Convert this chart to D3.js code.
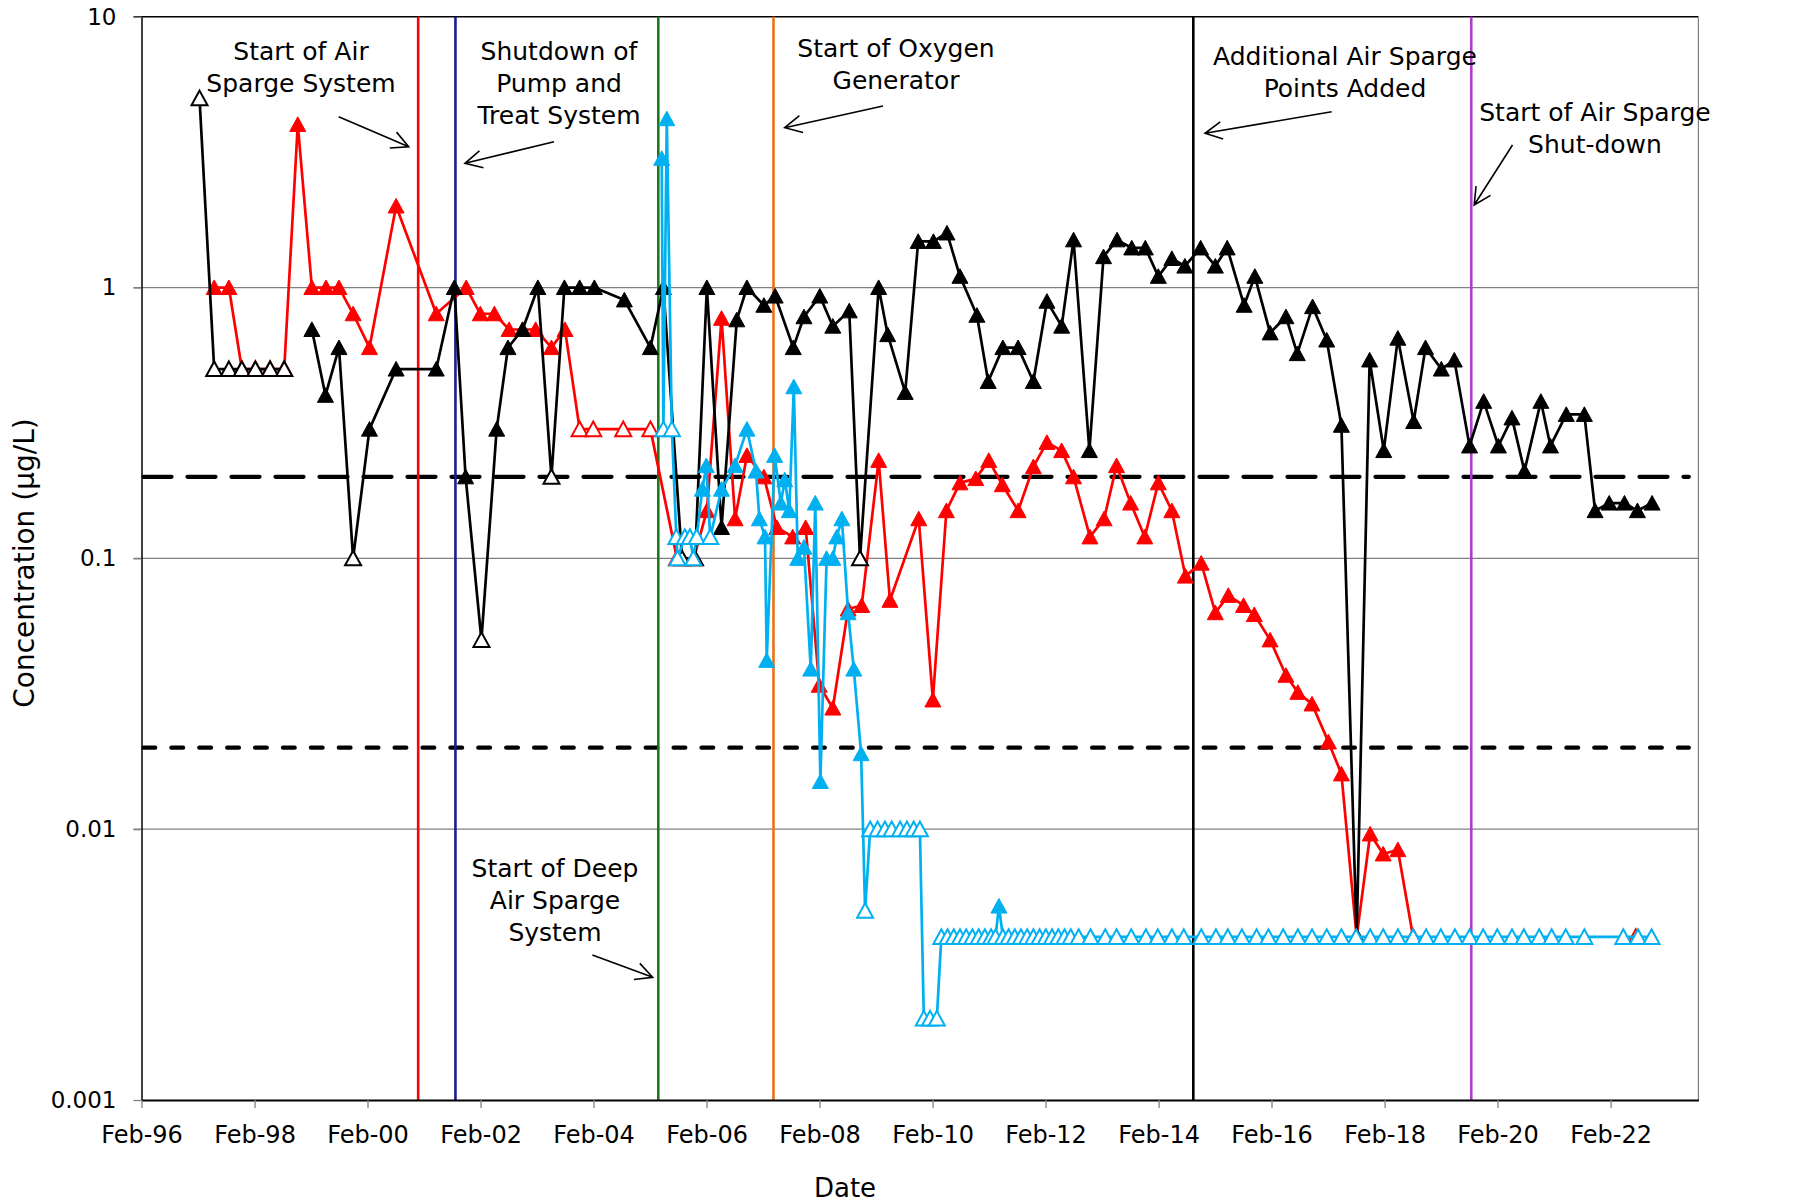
<!DOCTYPE html>
<html>
<head>
<meta charset="utf-8">
<script src="https://cdn.jsdelivr.net/npm/d3@7"></script>
<style>
  body { margin: 0; background: #fff; }
  svg { display: block; font-family: "DejaVu Sans", sans-serif; }
</style>
</head>
<body>
<svg id="chart" width="1796" height="1202"></svg>
<script>
// dates are decimal years, values in µg/L, third field = 1 for non-detect (open marker)
const xTickYears = [1996, 1998, 2000, 2002, 2004, 2006, 2008, 2010, 2012, 2014, 2016, 2018, 2020, 2022];
const yTickValues = [0.001, 0.01, 0.1, 1, 10];
const gridValues = [0.01, 0.1, 1];
const thresholdValues = [0.2, 0.02];
const thresholdEnd = 2023.47;

const eventDates = [2000.98, 2001.64, 2005.23, 2007.27, 2014.70, 2019.62];
const eventColors = ["#ff0000", "#1c1c8c", "#1a7a1a", "#e8731a", "#000000", "#ac3ec8"];

const eventLabels = [
  ["Start of Air", "Sparge System"],
  ["Shutdown of", "Pump and", "Treat System"],
  ["Start of Oxygen", "Generator"],
  ["Additional Air Sparge", "Points Added"],
  ["Start of Air Sparge", "Shut-down"],
  ["Start of Deep", "Air Sparge", "System"]
];

const blackWell = [
  [1997.11, 5, 1], [1997.37, 0.5, 1], [1997.63, 0.5, 1], [1997.86, 0.5, 1],
  [1998.10, 0.5, 1], [1998.36, 0.5, 1], [1998.61, 0.5, 1],
  null,
  [1999.10, 0.70, 0], [1999.34, 0.40, 0], [1999.58, 0.60, 0], [1999.83, 0.10, 1],
  [2000.12, 0.30, 0], [2000.59, 0.50, 0], [2001.30, 0.50, 0], [2001.62, 1.0, 0],
  [2001.82, 0.20, 0], [2002.10, 0.05, 1], [2002.37, 0.30, 0], [2002.57, 0.60, 0],
  [2002.83, 0.70, 0], [2003.10, 1.0, 0], [2003.34, 0.20, 1], [2003.57, 1.0, 0],
  [2003.84, 1.0, 0], [2004.10, 1.0, 0], [2004.63, 0.90, 0], [2005.09, 0.60, 0],
  [2005.32, 1.0, 0], [2005.65, 0.10, 1], [2005.88, 0.10, 1], [2006.09, 1.0, 0],
  [2006.35, 0.13, 0], [2006.62, 0.76, 0], [2006.80, 1.0, 0], [2007.10, 0.86, 0],
  [2007.30, 0.93, 0], [2007.62, 0.60, 0], [2007.81, 0.78, 0], [2008.09, 0.93, 0],
  [2008.32, 0.72, 0], [2008.61, 0.82, 0], [2008.80, 0.10, 1], [2009.13, 1.0, 0],
  [2009.29, 0.67, 0], [2009.60, 0.41, 0], [2009.83, 1.48, 0], [2010.10, 1.48, 0],
  [2010.34, 1.59, 0], [2010.57, 1.1, 0], [2010.87, 0.79, 0], [2011.07, 0.45, 0],
  [2011.33, 0.60, 0], [2011.60, 0.60, 0], [2011.87, 0.45, 0], [2012.11, 0.89, 0],
  [2012.37, 0.72, 0], [2012.58, 1.5, 0], [2012.86, 0.25, 0], [2013.11, 1.3, 0],
  [2013.35, 1.5, 0], [2013.61, 1.4, 0], [2013.85, 1.4, 0], [2014.08, 1.1, 0],
  [2014.32, 1.28, 0], [2014.55, 1.2, 0], [2014.83, 1.4, 0], [2015.09, 1.2, 0],
  [2015.30, 1.4, 0], [2015.60, 0.86, 0], [2015.79, 1.1, 0], [2016.06, 0.68, 0],
  [2016.34, 0.78, 0], [2016.54, 0.57, 0], [2016.81, 0.85, 0], [2017.06, 0.64, 0],
  [2017.32, 0.31, 0], [2017.59, 0.004, 1], [2017.82, 0.54, 0], [2018.07, 0.25, 0],
  [2018.32, 0.65, 0], [2018.60, 0.32, 0], [2018.81, 0.60, 0], [2019.09, 0.50, 0],
  [2019.32, 0.54, 0], [2019.59, 0.26, 0], [2019.84, 0.38, 0], [2020.10, 0.26, 0],
  [2020.34, 0.33, 0], [2020.56, 0.21, 0], [2020.85, 0.38, 0], [2021.02, 0.26, 0],
  [2021.30, 0.34, 0], [2021.62, 0.34, 0], [2021.81, 0.15, 0], [2022.06, 0.16, 0],
  [2022.33, 0.16, 0], [2022.56, 0.15, 0], [2022.82, 0.16, 0]
];

const redWell = [
  [1997.37, 1.0, 0], [1997.63, 1.0, 0], [1997.86, 0.5, 1], [1998.10, 0.5, 1],
  [1998.36, 0.5, 1], [1998.61, 0.5, 1], [1998.85, 4.0, 0], [1999.10, 1.0, 0],
  [1999.35, 1.0, 0], [1999.58, 1.0, 0], [1999.83, 0.80, 0], [2000.12, 0.60, 0],
  [2000.59, 2.0, 0], [2001.30, 0.80, 0], [2001.83, 1.0, 0], [2002.08, 0.80, 0],
  [2002.33, 0.80, 0], [2002.59, 0.70, 0], [2002.83, 0.70, 0], [2003.06, 0.70, 0],
  [2003.34, 0.60, 0], [2003.58, 0.70, 0], [2003.84, 0.30, 1], [2004.08, 0.30, 1],
  [2004.61, 0.30, 1], [2005.09, 0.30, 1], [2005.56, 0.10, 1], [2005.86, 0.10, 1],
  [2006.09, 0.15, 0], [2006.35, 0.77, 0], [2006.59, 0.14, 0], [2006.80, 0.24, 0],
  [2007.10, 0.20, 0], [2007.33, 0.13, 0], [2007.61, 0.12, 0], [2007.84, 0.13, 0],
  [2008.08, 0.034, 0], [2008.32, 0.028, 0], [2008.59, 0.065, 0], [2008.83, 0.067, 0],
  [2009.13, 0.23, 0], [2009.33, 0.07, 0], [2009.84, 0.14, 0], [2010.09, 0.030, 0],
  [2010.33, 0.15, 0], [2010.57, 0.19, 0], [2010.85, 0.197, 0], [2011.08, 0.23, 0],
  [2011.32, 0.187, 0], [2011.60, 0.15, 0], [2011.87, 0.218, 0], [2012.11, 0.268, 0],
  [2012.37, 0.25, 0], [2012.58, 0.20, 0], [2012.87, 0.12, 0], [2013.12, 0.14, 0],
  [2013.34, 0.22, 0], [2013.59, 0.16, 0], [2013.84, 0.12, 0], [2014.08, 0.19, 0],
  [2014.32, 0.15, 0], [2014.56, 0.086, 0], [2014.84, 0.096, 0], [2015.09, 0.063, 0],
  [2015.32, 0.073, 0], [2015.59, 0.067, 0], [2015.78, 0.062, 0], [2016.06, 0.050, 0],
  [2016.34, 0.037, 0], [2016.55, 0.032, 0], [2016.80, 0.029, 0], [2017.09, 0.021, 0],
  [2017.32, 0.016, 0], [2017.59, 0.004, 1], [2017.83, 0.0096, 0], [2018.06, 0.0081, 0],
  [2018.32, 0.0084, 0], [2018.59, 0.004, 1],
  null,
  [2022.53, 0.004, 1]
];

const cyanWell = [
  [2005.29, 3.0, 0], [2005.32, 0.3, 1], [2005.38, 4.2, 0], [2005.47, 0.3, 1],
  [2005.55, 0.12, 1], [2005.57, 0.1, 1], [2005.70, 0.12, 1], [2005.79, 0.12, 1],
  [2005.85, 0.1, 1], [2005.91, 0.12, 1], [2006.01, 0.18, 0], [2006.08, 0.22, 0],
  [2006.15, 0.12, 1], [2006.35, 0.18, 0], [2006.59, 0.22, 0], [2006.80, 0.30, 0],
  [2006.96, 0.21, 0], [2007.02, 0.14, 0], [2007.12, 0.12, 0], [2007.15, 0.042, 0],
  [2007.29, 0.24, 0], [2007.40, 0.16, 0], [2007.47, 0.195, 0], [2007.55, 0.15, 0],
  [2007.63, 0.43, 0], [2007.70, 0.10, 0], [2007.81, 0.11, 0], [2007.93, 0.039, 0],
  [2008.01, 0.16, 0], [2008.10, 0.015, 0], [2008.21, 0.10, 0], [2008.32, 0.10, 0],
  [2008.39, 0.12, 0], [2008.48, 0.14, 0], [2008.59, 0.063, 0], [2008.69, 0.039, 0],
  [2008.82, 0.019, 0], [2008.89, 0.005, 1],
  [2008.98, 0.01, 1], [2009.11, 0.01, 1], [2009.24, 0.01, 1], [2009.36, 0.01, 1],
  [2009.51, 0.01, 1], [2009.63, 0.01, 1], [2009.75, 0.01, 1], [2009.86, 0.01, 1],
  [2009.93, 0.002, 1], [2010.04, 0.002, 1], [2010.16, 0.002, 1],
  [2010.24, 0.004, 1], [2010.35, 0.004, 1], [2010.46, 0.004, 1], [2010.57, 0.004, 1],
  [2010.68, 0.004, 1], [2010.79, 0.004, 1], [2010.90, 0.004, 1], [2011.01, 0.004, 1],
  [2011.12, 0.004, 1], [2011.20, 0.004, 1], [2011.26, 0.0052, 0], [2011.33, 0.004, 1],
  [2011.43, 0.004, 1], [2011.54, 0.004, 1], [2011.65, 0.004, 1], [2011.76, 0.004, 1],
  [2011.87, 0.004, 1], [2011.98, 0.004, 1], [2012.09, 0.004, 1], [2012.20, 0.004, 1],
  [2012.31, 0.004, 1], [2012.42, 0.004, 1], [2012.53, 0.004, 1],
  [2012.67, 0.004, 1], [2012.88, 0.004, 1], [2013.14, 0.004, 1], [2013.34, 0.004, 1],
  [2013.60, 0.004, 1], [2013.86, 0.004, 1], [2014.07, 0.004, 1], [2014.32, 0.004, 1],
  [2014.53, 0.004, 1], [2014.84, 0.004, 1], [2015.10, 0.004, 1], [2015.31, 0.004, 1],
  [2015.56, 0.004, 1], [2015.82, 0.004, 1], [2016.03, 0.004, 1], [2016.29, 0.004, 1],
  [2016.55, 0.004, 1], [2016.80, 0.004, 1], [2017.06, 0.004, 1], [2017.32, 0.004, 1],
  [2017.58, 0.004, 1], [2017.83, 0.004, 1], [2018.06, 0.004, 1], [2018.32, 0.004, 1],
  [2018.59, 0.004, 1], [2018.82, 0.004, 1], [2019.08, 0.004, 1], [2019.33, 0.004, 1],
  [2019.59, 0.004, 1], [2019.83, 0.004, 1], [2020.08, 0.004, 1], [2020.34, 0.004, 1],
  [2020.55, 0.004, 1], [2020.82, 0.004, 1], [2021.04, 0.004, 1], [2021.29, 0.004, 1],
  [2021.62, 0.004, 1], [2022.31, 0.004, 1], [2022.57, 0.004, 1], [2022.81, 0.004, 1]
];

const svg = d3.select("#chart");
const plot = { left: 141.5, right: 1698.4, top: 16.7, bottom: 1100 };

function toDate(dy) {
  const yr = Math.floor(dy);
  const a = Date.UTC(yr, 0, 1), b = Date.UTC(yr + 1, 0, 1);
  return new Date(a + (dy - yr) * (b - a));
}

const x = d3.scaleUtc()
  .domain([toDate(1996.085), toDate(2023.64)])
  .range([plot.left, plot.right]);
const y = d3.scaleLog()
  .domain([0.001, 10])
  .range([plot.bottom, plot.top]);

// gridlines
svg.append("g").selectAll("line")
  .data(gridValues)
  .enter().append("line")
  .attr("x1", plot.left - 8).attr("x2", plot.right)
  .attr("y1", d => y(d)).attr("y2", d => y(d))
  .attr("stroke", "#808080").attr("stroke-width", 1.3);

// frame
svg.append("line")
  .attr("x1", plot.left - 8).attr("x2", plot.right)
  .attr("y1", y(10)).attr("y2", y(10))
  .attr("stroke", "#000").attr("stroke-width", 1.5);
svg.append("line")
  .attr("x1", plot.right).attr("x2", plot.right)
  .attr("y1", plot.top).attr("y2", plot.bottom)
  .attr("stroke", "#808080").attr("stroke-width", 1.2);

// regulatory levels
svg.append("g").selectAll("line")
  .data(thresholdValues)
  .enter().append("line")
  .attr("x1", x(toDate(1996.085)) + 2).attr("x2", x(toDate(thresholdEnd)))
  .attr("y1", d => y(d)).attr("y2", d => y(d))
  .attr("stroke", "#000").attr("stroke-width", 4.3)
  .attr("stroke-linecap", "round")
  .attr("stroke-dasharray", (d, i) => i === 0 ? "28 16" : "11.7 16.2");

// event lines
svg.append("g").selectAll("line")
  .data(eventDates)
  .enter().append("line")
  .attr("x1", d => x(toDate(d))).attr("x2", d => x(toDate(d)))
  .attr("y1", plot.top).attr("y2", plot.bottom)
  .attr("stroke", (d, i) => eventColors[i]).attr("stroke-width", 2.6);

// series
const seriesList = [
  { data: redWell, color: "#ff0000" },
  { data: blackWell, color: "#000000" },
  { data: cyanWell, color: "#00b0f0" }
];
const line = d3.line()
  .defined(d => d !== null)
  .x(d => x(toDate(d[0])))
  .y(d => y(d[1]));
const tri = "M0,-7.6L8,7L-8,7Z";

seriesList.forEach(s => {
  const g = svg.append("g");
  g.append("path")
    .attr("d", line(s.data))
    .attr("fill", "none")
    .attr("stroke", s.color)
    .attr("stroke-width", 2.7)
    .attr("stroke-linejoin", "round");
  g.selectAll("path.mk")
    .data(s.data.filter(d => d !== null))
    .enter().append("path")
    .attr("class", "mk")
    .attr("d", tri)
    .attr("transform", d => `translate(${x(toDate(d[0]))},${y(d[1])})`)
    .attr("fill", d => d[2] ? "#fff" : s.color)
    .attr("stroke", s.color)
    .attr("stroke-width", d => d[2] ? 2 : 1);
});

// axes
const xAxis = d3.axisBottom(x)
  .tickValues(xTickYears.map(yr => new Date(Date.UTC(yr, 1, 1))))
  .tickFormat(d3.utcFormat("%b-%y"))
  .tickSize(8).tickSizeOuter(0).tickPadding(18);
const gx = svg.append("g")
  .attr("transform", `translate(0,${plot.bottom})`)
  .call(xAxis);
gx.select(".domain").attr("stroke", "#000").attr("stroke-width", 2);
gx.selectAll(".tick line").attr("stroke", "#808080").attr("stroke-width", 1.3);
gx.selectAll(".tick text").attr("font-size", 24).attr("fill", "#000")
  .attr("font-family", "DejaVu Sans, sans-serif");

const yAxis = d3.axisLeft(y)
  .tickValues(yTickValues)
  .tickFormat(d => String(d))
  .tickSize(8).tickSizeOuter(0).tickPadding(17);
const gy = svg.append("g")
  .attr("transform", `translate(${plot.left},0)`)
  .call(yAxis);
gy.select(".domain").attr("stroke", "#000").attr("stroke-width", 1.5);
gy.selectAll(".tick line").attr("stroke", "#808080").attr("stroke-width", 1.3);
gy.selectAll(".tick text").attr("font-size", 23).attr("fill", "#000")
  .attr("font-family", "DejaVu Sans, sans-serif");

// axis titles
svg.append("text")
  .attr("transform", "translate(34,563) rotate(-90)")
  .attr("text-anchor", "middle")
  .attr("font-size", 28)
  .text("Concentration (µg/L)");
svg.append("text")
  .attr("x", 845).attr("y", 1197)
  .attr("text-anchor", "middle")
  .attr("font-size", 26)
  .text("Date");

// annotations
const annoLayout = [
  { cx: 301, y0: 60, from: [338.7, 116.7], to: [408.7, 146.7] },
  { cx: 559, y0: 60, from: [554, 141.7], to: [465, 163.3] },
  { cx: 896, y0: 57, from: [883, 106], to: [784.7, 127.7] },
  { cx: 1345, y0: 65, from: [1331.7, 111.7], to: [1205, 133.3] },
  { cx: 1595, y0: 121, from: [1512.5, 145], to: [1474.2, 205] },
  { cx: 555, y0: 877, from: [592.4, 955], to: [652.7, 977.3] }
];

function arrowPath(p, q) {
  const a = Math.atan2(q[1] - p[1], q[0] - p[0]);
  const L = 19, s = 0.47;
  const h1 = [q[0] - L * Math.cos(a - s), q[1] - L * Math.sin(a - s)];
  const h2 = [q[0] - L * Math.cos(a + s), q[1] - L * Math.sin(a + s)];
  return `M${p[0]},${p[1]}L${q[0]},${q[1]}M${h1[0]},${h1[1]}L${q[0]},${q[1]}L${h2[0]},${h2[1]}`;
}

annoLayout.forEach((a, i) => {
  const t = svg.append("text")
    .attr("text-anchor", "middle")
    .attr("font-size", 25)
    .attr("fill", "#000");
  eventLabels[i].forEach((ln, j) => {
    t.append("tspan").attr("x", a.cx).attr("y", a.y0 + j * 32).text(ln);
  });
  svg.append("path")
    .attr("d", arrowPath(a.from, a.to))
    .attr("fill", "none")
    .attr("stroke", "#000")
    .attr("stroke-width", 1.6);
});
</script>
</body>
</html>
